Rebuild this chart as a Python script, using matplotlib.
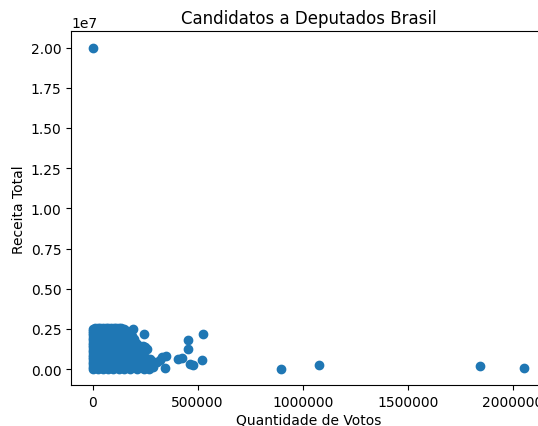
import matplotlib
matplotlib.use("Agg")
import matplotlib.pyplot as plt

# Main dense cluster (votes, revenue)
votos_cluster = [
    2000, 25000, 50000, 75000, 100000, 125000, 148000,
    1000, 22000, 48000, 72000, 97000, 122000, 150000, 175000,
    3000, 20000, 46000, 70000, 95000, 120000, 146000, 172000, 198000,
    0, 24000, 49000, 74000, 99000, 124000, 151000, 178000, 205000,
    2000, 21000, 47000, 73000, 98000, 123000, 149000, 176000, 203000, 230000, 250000,
    1000, 23000, 50000, 76000, 101000, 126000, 152000, 180000, 207000, 235000,
    0, 20000, 45000, 71000, 96000, 121000, 147000, 174000, 201000, 228000, 255000,
    3000, 25000, 48000, 75000, 100000, 125000, 150000, 177000, 204000, 232000, 258000, 290000,
    1000, 22000, 46000, 72000, 97000, 122000, 148000, 175000, 202000, 230000, 260000, 285000,
    0, 24000, 49000, 74000, 99000, 124000, 150000, 178000, 210000, 245000, 270000,
    # staggered fill
    12000, 37000, 62000, 88000, 112000, 137000,
    1000, 13000, 36000, 61000, 86000, 111000, 136000, 162000,
    0, 11000, 35000, 60000, 85000, 110000, 135000, 160000, 186000,
    2000, 14000, 38000, 63000, 87000, 113000, 138000, 164000, 190000,
    1000, 12000, 36000, 62000, 86000, 111000, 137000, 163000, 190000, 216000, 240000,
    0, 13000, 37000, 61000, 88000, 112000, 138000, 165000, 192000, 220000, 244000,
    2000, 11000, 35000, 60000, 85000, 110000, 136000, 161000, 188000, 214000, 242000,
    1000, 14000, 38000, 63000, 87000, 112000, 137000, 163000, 190000, 218000, 246000, 272000,
    0, 12000, 36000, 61000, 86000, 111000, 136000, 162000, 189000, 216000, 250000, 280000,
]
receita_cluster = [
    2520000, 2550000, 2560000, 2540000, 2550000, 2530000, 2510000,
    2250000, 2240000, 2260000, 2250000, 2230000, 2260000, 2250000, 2200000,
    1950000, 1960000, 1940000, 1950000, 1970000, 1950000, 1940000, 1960000, 1900000,
    1650000, 1660000, 1640000, 1650000, 1670000, 1650000, 1640000, 1660000, 1620000,
    1350000, 1340000, 1360000, 1350000, 1330000, 1350000, 1360000, 1340000, 1350000, 1330000, 1380000,
    1050000, 1040000, 1060000, 1050000, 1030000, 1050000, 1060000, 1040000, 1050000, 1020000,
    750000, 760000, 740000, 750000, 770000, 750000, 740000, 760000, 750000, 730000, 700000,
    450000, 440000, 460000, 450000, 430000, 450000, 460000, 440000, 450000, 430000, 460000, 440000,
    150000, 160000, 140000, 150000, 170000, 150000, 140000, 160000, 150000, 140000, 160000, 150000,
    20000, 10000, 30000, 20000, 10000, 30000, 20000, 10000, 30000, 20000, 10000,
    # staggered fill
    2560000, 2550000, 2570000, 2560000, 2550000, 2540000,
    2400000, 2390000, 2410000, 2400000, 2380000, 2400000, 2410000, 2380000,
    2100000, 2090000, 2110000, 2100000, 2080000, 2100000, 2110000, 2090000, 2080000,
    1800000, 1790000, 1810000, 1800000, 1780000, 1800000, 1810000, 1790000, 1780000,
    1500000, 1490000, 1510000, 1500000, 1480000, 1500000, 1510000, 1490000, 1500000, 1480000, 1460000,
    1200000, 1190000, 1210000, 1200000, 1180000, 1200000, 1210000, 1190000, 1200000, 1180000, 1170000,
    900000, 890000, 910000, 900000, 880000, 900000, 910000, 890000, 900000, 880000, 870000,
    600000, 590000, 610000, 600000, 580000, 600000, 610000, 590000, 600000, 580000, 590000, 600000,
    300000, 290000, 310000, 300000, 280000, 300000, 310000, 290000, 300000, 280000, 300000, 290000,
]

# Scattered candidates outside the cluster
votos_outros = [
    2000, 193000, 244000, 260000, 273000, 305000, 320000, 328000, 344000, 349000,
    408000, 424000, 456000, 452000, 463000, 479000, 519000, 524000,
    897000, 1079000, 1841000, 2055000,
]
receita_outros = [
    20000000, 2500000, 2180000, 1250000, 550000, 450000, 550000, 760000, 90000, 820000,
    610000, 690000, 1800000, 1220000, 340000, 250000, 550000, 2160000,
    30000, 280000, 200000, 70000,
]

titulo = "Candidatos a Deputados Brasil"
rotulo_x = "Quantidade de Votos"
rotulo_y = "Receita Total"

fig = plt.figure(figsize=(5.38, 4.27), dpi=100)
ax = fig.add_axes([0.132, 0.096, 0.883, 0.828])
ax.scatter(votos_cluster + votos_outros, receita_cluster + receita_outros, color="#1f77b4")
ax.set_title(titulo)
ax.set_xlabel(rotulo_x, labelpad=2.5)
ax.set_ylabel(rotulo_y, labelpad=3.5)
ax.ticklabel_format(axis="x", style="plain")
fig.savefig("out.png", dpi=100)
